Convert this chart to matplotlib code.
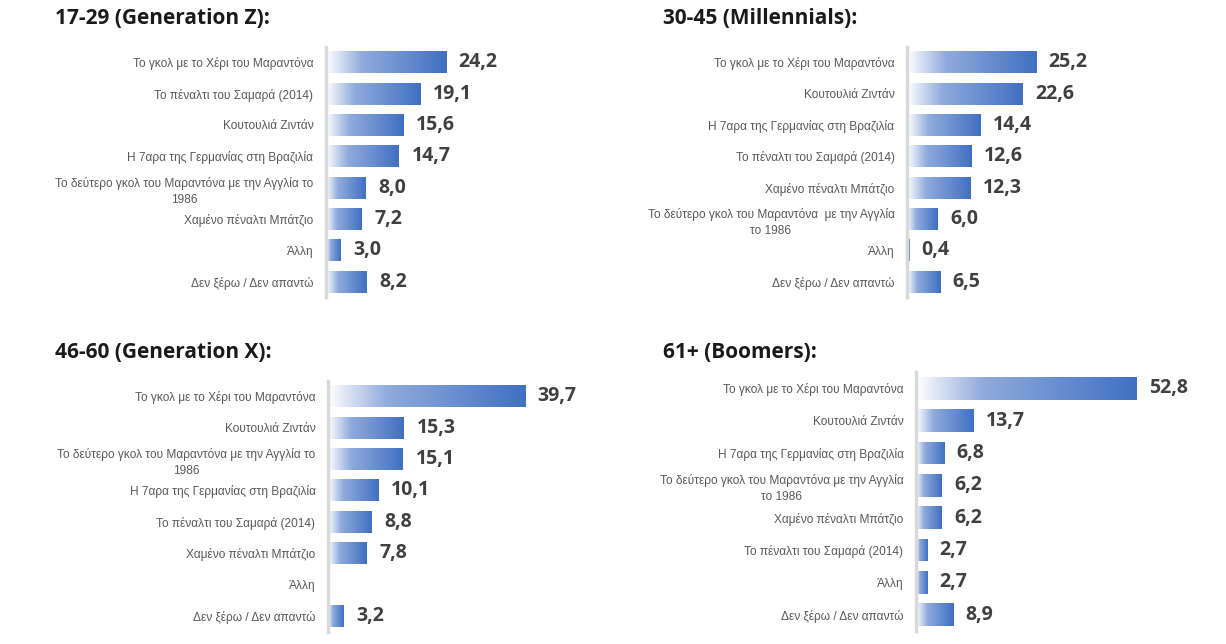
import numpy as np
import matplotlib.pyplot as plt
from matplotlib.colors import LinearSegmentedColormap

# δεδομένα ανά ηλικιακή ομάδα
titles = ["17-29 (Generation Z):", "30-45 (Millennials):",
          "46-60 (Generation X):", "61+ (Boomers):"]

cats_gz = ["Το γκολ με το Χέρι του Μαραντόνα", "Το πέναλτι του Σαμαρά (2014)",
           "Κουτουλιά Ζιντάν", "Η 7αρα της Γερμανίας στη Βραζιλία",
           "Το δεύτερο γκολ του Μαραντόνα με την Αγγλία το\n1986",
           "Χαμένο πέναλτι Μπάτζιο", "Άλλη", "Δεν ξέρω / Δεν απαντώ"]
vals_gz = [24.2, 19.1, 15.6, 14.7, 8.0, 7.2, 3.0, 8.2]

cats_mil = ["Το γκολ με το Χέρι του Μαραντόνα", "Κουτουλιά Ζιντάν",
            "Η 7αρα της Γερμανίας στη Βραζιλία", "Το πέναλτι του Σαμαρά (2014)",
            "Χαμένο πέναλτι Μπάτζιο",
            "Το δεύτερο γκολ του Μαραντόνα  με την Αγγλία\nτο 1986",
            "Άλλη", "Δεν ξέρω / Δεν απαντώ"]
vals_mil = [25.2, 22.6, 14.4, 12.6, 12.3, 6.0, 0.4, 6.5]

cats_gx = ["Το γκολ με το Χέρι του Μαραντόνα", "Κουτουλιά Ζιντάν",
           "Το δεύτερο γκολ του Μαραντόνα με την Αγγλία το\n1986",
           "Η 7αρα της Γερμανίας στη Βραζιλία", "Το πέναλτι του Σαμαρά (2014)",
           "Χαμένο πέναλτι Μπάτζιο", "Άλλη", "Δεν ξέρω / Δεν απαντώ"]
vals_gx = [39.7, 15.3, 15.1, 10.1, 8.8, 7.8, np.nan, 3.2]

cats_boom = ["Το γκολ με το Χέρι του Μαραντόνα", "Κουτουλιά Ζιντάν",
             "Η 7αρα της Γερμανίας στη Βραζιλία",
             "Το δεύτερο γκολ του Μαραντόνα με την Αγγλία\nτο 1986",
             "Χαμένο πέναλτι Μπάτζιο", "Το πέναλτι του Σαμαρά (2014)",
             "Άλλη", "Δεν ξέρω / Δεν απαντώ"]
vals_boom = [52.8, 13.7, 6.8, 6.2, 6.2, 2.7, 2.7, 8.9]

W, H = 1226, 644
fig = plt.figure(figsize=(W / 100, H / 100), dpi=100)

cmap = LinearSegmentedColormap.from_list(
    "grad", [(0, "#ffffff"), (0.3, "#90abdc"), (1, "#4070c2")])
grad = np.linspace(0, 1, 256).reshape(1, -1)

# θέσεις πάνελ σε pixels: (αριστερά, πάνω, κάτω, δεξιά), xmax, θέση τίτλου
panels = [
    (cats_gz, vals_gz, (326, 46.5, 297.5, 600), 55.2, (55, 18)),
    (cats_mil, vals_mil, (907, 46.5, 297.5, 1220), 61.1, (663, 18)),
    (cats_gx, vals_gx, (328, 380.5, 631.5, 602), 55.2, (55, 352)),
    (cats_boom, vals_boom, (916, 372, 631, 1220), 72.9, (663, 352)),
]

for (cats, vals, (l, t, b, r), xmax, (tx, ty)), title in zip(panels, titles):
    ax = fig.add_axes([l / W, 1 - b / H, (r - l) / W, (b - t) / H])
    y = np.arange(len(cats))
    v = np.nan_to_num(np.array(vals, dtype=float))
    bars = ax.barh(y, v, height=0.7, color="none", edgecolor="none")
    for bar, val in zip(bars, vals):
        if np.isnan(val):
            continue
        x0, y0 = bar.get_x(), bar.get_y()
        im = ax.imshow(grad, extent=[x0, x0 + bar.get_width(), y0, y0 + bar.get_height()],
                       aspect="auto", cmap=cmap, interpolation="bicubic", zorder=2)
        im.set_clip_path(bar)
        ax.annotate(f"{val:.1f}".replace(".", ","), (val, bar.get_y() + bar.get_height() / 2),
                    xytext=(9, 0), textcoords="offset points", va="center", ha="left",
                    fontsize=14, fontweight="bold", color="#404040", family="Open Sans")
    ax.set_xlim(0, xmax)
    ax.set_ylim(len(cats) - 0.5, -0.5)
    ax.set_yticks(y)
    ax.set_yticklabels(cats, fontsize=8.6, color="#595959", family="Liberation Sans",
                       multialignment="center", linespacing=1.45)
    ax.tick_params(axis="y", length=0, pad=9)
    ax.set_xticks([])
    for s in ["top", "right", "bottom"]:
        ax.spines[s].set_visible(False)
    ax.spines["left"].set_color("#d9d9d9")
    ax.spines["left"].set_linewidth(2.5)
    ax.patch.set_alpha(0)
    fig.text(tx / W, 1 - ty / H, title, fontsize=15, fontweight="bold",
             family="Open Sans", color="#1a1a1a", ha="left", va="center")

plt.savefig("out.png", dpi=100)
